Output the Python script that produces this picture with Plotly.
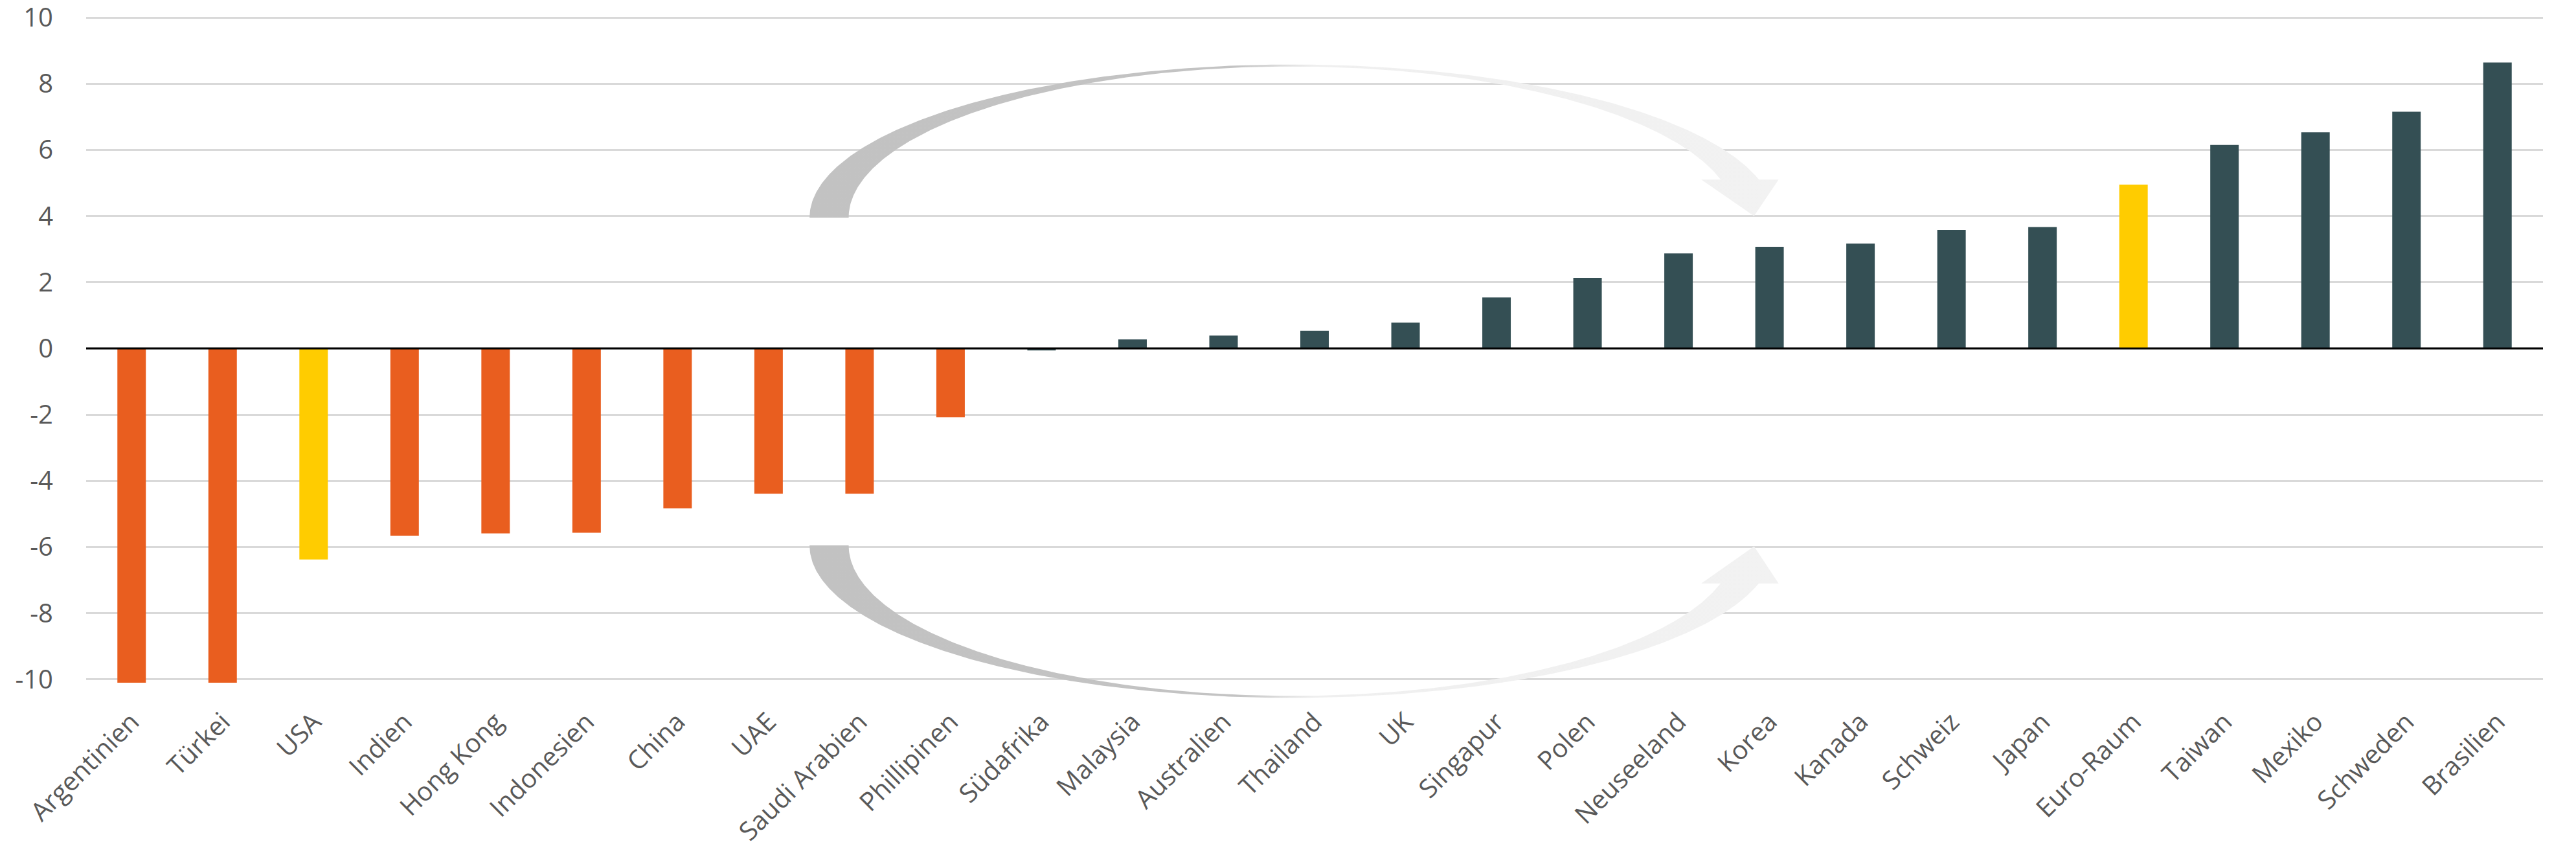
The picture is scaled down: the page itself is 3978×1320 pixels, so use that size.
import numpy as np
import plotly.graph_objects as go

# ---------------- data ----------------
countries = ["Argentinien", "Türkei", "USA", "Indien", "Hong Kong", "Indonesien",
             "China", "UAE", "Saudi Arabien", "Phillipinen", "Südafrika", "Malaysia",
             "Australien", "Thailand", "UK", "Singapur", "Polen", "Neuseeland",
             "Korea", "Kanada", "Schweiz", "Japan", "Euro-Raum", "Taiwan", "Mexiko",
             "Schweden", "Brasilien"]
values = [-10.1, -10.1, -6.38, -5.66, -5.59, -5.57, -4.83, -4.39, -4.39, -2.08,
          -0.06, 0.27, 0.39, 0.53, 0.78, 1.54, 2.13, 2.87, 3.07, 3.17, 3.58, 3.67,
          4.95, 6.15, 6.53, 7.15, 8.64]
highlighted = ["USA", "Euro-Raum"]
y_tick_values = [-10, -8, -6, -4, -2, 0, 2, 4, 6, 8, 10]
y_tick_labels = ["-10", "-8", "-6", "-4", "-2", "0", "2", "4", "6", "8", "10"]

# ---------------- styles ----------------
ORANGE = "#E95E1F"
YELLOW = "#FFCC00"
DARK = "#344F54"
TEXT = "#595959"
FONT = "Open Sans"

colors = []
for c, v in zip(countries, values):
    if c in highlighted:
        colors.append(YELLOW)
    elif v < -1:
        colors.append(ORANGE)
    else:
        colors.append(DARK)

fig = go.Figure()
fig.add_trace(go.Bar(x=countries, y=values, marker=dict(color=colors, line=dict(width=0)),
                     hoverinfo="x+y"))

# ---------------- decorative curved arrows ----------------
def arrow(cx, y0, a_out, b_out, a_in, b_in, head_y, head_l, head_r, tip_x, tip_y, sign):
    th_o = np.arcsin((head_y - y0) / (sign * b_out))
    th_i = np.arcsin((head_y - y0) / (sign * b_in))
    t1 = np.linspace(np.pi, th_o, 300)
    t2 = np.linspace(th_i, np.pi, 300)
    xo = cx + a_out * np.cos(t1)
    yo = y0 + sign * b_out * np.sin(t1)
    xi = cx + a_in * np.cos(t2)
    yi = y0 + sign * b_in * np.sin(t2)
    xs = np.concatenate([xo, [head_r, tip_x, head_l], xi, [xo[0]]])
    ys = np.concatenate([yo, [head_y, tip_y, head_y], yi, [yo[0]]])
    return xs, ys

grad = dict(type="horizontal", start=7.45, stop=18.1,
            colorscale=[[0, "#c2c2c2"], [0.44, "#c3c3c3"], [0.52, "#efefef"], [1, "#f2f2f2"]])

for (y0, b_out, b_in, head_y, tip_y, sign) in [(3.95, 4.63, 4.57, 5.10, 4.0, 1),
                                              (-5.95, 4.61, 4.55, -7.10, -5.98, -1)]:
    xs, ys = arrow(12.75, y0, 5.30, b_out, 4.87, b_in, head_y, 17.25, 18.10, 17.83, tip_y, sign)
    fig.add_trace(go.Scatter(x=xs, y=ys, xaxis="x2", yaxis="y", mode="lines",
                             line=dict(width=0, color="rgba(0,0,0,0)"),
                             fill="toself", fillgradient=grad, hoverinfo="skip"))

fig.add_shape(type="line", xref="paper", x0=0, x1=1, yref="y", y0=0, y1=0,
              line=dict(color="black", width=3), layer="above")

# the page body adds an 8px offset, so the figure is 8px smaller than the window
fig.update_layout(
    width=3970, height=1312,
    margin=dict(l=125, r=51, t=18, b=238, autoexpand=False),
    paper_bgcolor="white", plot_bgcolor="white",
    showlegend=False, bargap=0.687,
    font=dict(family=FONT, size=40, color=TEXT),
    xaxis=dict(type="category", tickangle=-45, showgrid=False, zeroline=False,
               showline=False, ticks="", automargin=False,
               tickfont=dict(family=FONT, size=40, color=TEXT)),
    xaxis2=dict(overlaying="x", anchor="y", range=[-0.5, 26.5], visible=False),
    yaxis=dict(range=[-10.65, 10.02], tickvals=y_tick_values, ticktext=y_tick_labels,
               showgrid=True, gridcolor="#D9D9D9", gridwidth=2.5, zeroline=False,
               showline=False, ticks="outside", ticklen=42, tickcolor="rgba(0,0,0,0)",
               ticklabeloverflow="allow", automargin=False,
               tickfont=dict(family=FONT, size=40, color=TEXT)),
)

fig.write_html("out.html")
